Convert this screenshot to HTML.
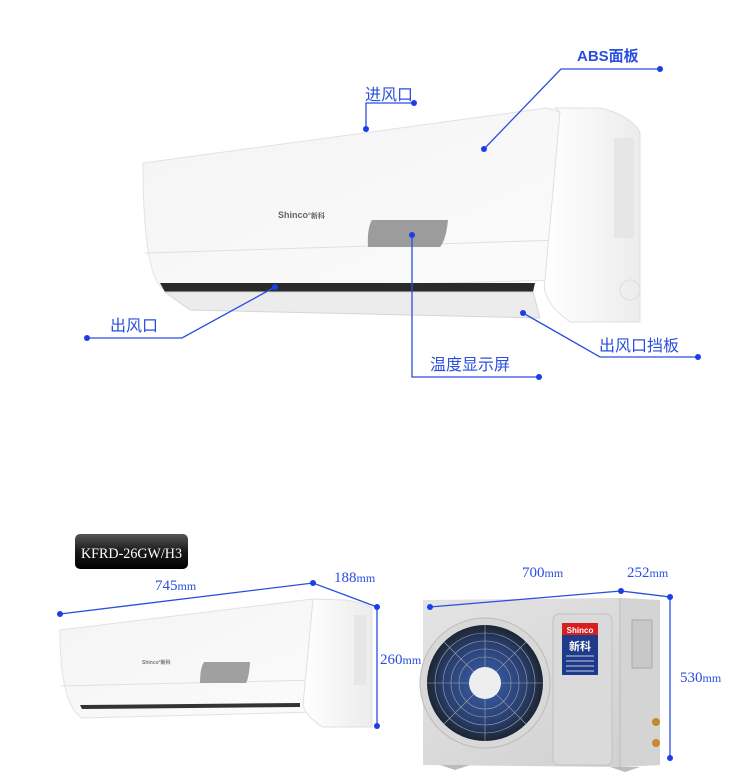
<!DOCTYPE html>
<html><head><meta charset="utf-8"><style>
html,body{margin:0;padding:0;background:#fff;}
svg{display:block;}
.l{font-family:"Liberation Serif","Noto Serif CJK SC",serif;fill:#2a4ee0;}
.c{font-family:"Liberation Sans","Noto Sans CJK SC",sans-serif;fill:#2a4ee0;}
</style></head><body>
<svg width="750" height="784" viewBox="0 0 750 784" xmlns="http://www.w3.org/2000/svg">
<defs>
<linearGradient id="fr" x1="0" y1="0" x2="1" y2="1"><stop offset="0" stop-color="#f4f4f4"/><stop offset="1" stop-color="#fbfbfb"/></linearGradient>
<linearGradient id="sd" x1="0" y1="0" x2="1" y2="0"><stop offset="0" stop-color="#ffffff"/><stop offset="1" stop-color="#ececec"/></linearGradient>
<linearGradient id="bx" x1="0" y1="0" x2="0" y2="1"><stop offset="0" stop-color="#555"/><stop offset=".5" stop-color="#1a1a1a"/><stop offset="1" stop-color="#000"/></linearGradient>
<linearGradient id="od" x1="0" y1="0" x2="1" y2="1"><stop offset="0" stop-color="#e4e4e4"/><stop offset="1" stop-color="#cfcfcf"/></linearGradient>
<radialGradient id="fan" cx=".5" cy=".5" r=".5"><stop offset="0" stop-color="#3b5fae"/><stop offset=".7" stop-color="#2a3f70"/><stop offset="1" stop-color="#1d2533"/></radialGradient>
</defs>

<!-- TOP INDOOR UNIT -->
<path d="M143,163 L547,108 L560,112 L563,280 L165,290 Q143,280 143,163 Z" fill="url(#fr)" stroke="#e2e2e2"/>
<line x1="145" y1="253" x2="562" y2="240" stroke="#e0e0e0"/>
<path d="M555,108 L600,108 Q630,115 640,132 L640,322 L570,322 Q540,300 545,280 L560,112 Z" fill="url(#sd)" stroke="#e0e0e0"/>
<path d="M160,283 L535,283 L533,292 L165,292 Z" fill="#2a2a2a"/>
<path d="M165,292 L533,292 L540,318 L190,310 Z" fill="#ececec" stroke="#d6d6d6"/>
<rect x="614" y="138" width="20" height="100" fill="#e6e6e6"/>
<circle cx="630" cy="290" r="10" fill="none" stroke="#ddd"/>
<path d="M372,220 L448,220 Q446,240 440,247 L368,247 Q367,228 372,220 Z" fill="#9c9c9c"/>
<text x="278" y="218" font-family="Liberation Sans,Noto Sans CJK SC,sans-serif" font-size="9" font-weight="bold" fill="#666">Shinco<tspan font-size="7">°新科</tspan></text>

<!-- labels top -->
<g stroke="#2a4ee0" stroke-width="1.3" fill="none">
<polyline points="414,103 366,103 366,129"/>
<polyline points="660,69 561,69 484,149"/>
<polyline points="87,338 182,338 275,287"/>
<polyline points="412,235 412,377 539,377"/>
<polyline points="523,313 600,357 698,357"/>
</g>
<g fill="#1c3ee8">
<circle cx="414" cy="103" r="3"/><circle cx="366" cy="129" r="3"/>
<circle cx="660" cy="69" r="3"/><circle cx="484" cy="149" r="3"/>
<circle cx="87" cy="338" r="3"/><circle cx="275" cy="287" r="3"/>
<circle cx="412" cy="235" r="3"/><circle cx="539" cy="377" r="3"/>
<circle cx="523" cy="313" r="3"/><circle cx="698" cy="357" r="3"/>
</g>
<text x="365" y="100" class="c" font-size="16">进风口</text>
<text x="577" y="61" class="c" font-size="15" font-weight="bold">ABS面板</text>
<text x="110" y="331" class="c" font-size="16">出风口</text>
<text x="430" y="370" class="c" font-size="16">温度显示屏</text>
<text x="599" y="351" class="c" font-size="16">出风口挡板</text>

<!-- model box -->
<rect x="75" y="534" width="113" height="35" rx="5" fill="url(#bx)"/>
<text x="81" y="558" font-family="Liberation Serif,serif" font-size="15" fill="#fff" textLength="101" lengthAdjust="spacingAndGlyphs">KFRD-26GW/H3</text>

<!-- bottom indoor -->
<path d="M60,630 L313,599 L317,712 L82,718 Q60,705 60,630 Z" fill="url(#fr)" stroke="#e2e2e2"/>
<line x1="60" y1="686" x2="317" y2="680" stroke="#e0e0e0"/>
<path d="M313,599 L345,600 Q365,603 372,608 L372,727 L322,727 Q305,715 303,705 Z" fill="url(#sd)" stroke="#e0e0e0"/>
<rect x="354" y="615" width="12" height="70" fill="#e6e6e6"/>
<path d="M80,705 L300,703 L300,707 L82,709 Z" fill="#333"/>
<path d="M204,662 L250,662 Q249,678 246,683 L200,683 Q200,668 204,662 Z" fill="#a0a0a0"/>
<text x="142" y="664" font-family="Liberation Sans,sans-serif" font-size="5" font-weight="bold" fill="#777">Shinco°新科</text>

<!-- outdoor -->
<path d="M423,600 L620,598 L660,600 L660,765 L620,767 L423,765 Z" fill="url(#od)"/>
<path d="M620,598 L660,600 L660,765 L620,767 Z" fill="#d4d4d4"/>
<line x1="620" y1="598" x2="620" y2="767" stroke="#bbb"/>
<rect x="553" y="614" width="59" height="151" rx="6" fill="#dadada" stroke="#c2c2c2"/>
<circle cx="485" cy="683" r="65" fill="#d8d8d8" stroke="#bbb"/>
<circle cx="485" cy="683" r="58" fill="url(#fan)"/>
<g stroke="#9aa" stroke-width=".6" fill="none">
<circle cx="485" cy="683" r="50"/><circle cx="485" cy="683" r="42"/><circle cx="485" cy="683" r="34"/><circle cx="485" cy="683" r="26"/>
<line x1="485" y1="625" x2="485" y2="741"/><line x1="427" y1="683" x2="543" y2="683"/>
<line x1="444" y1="642" x2="526" y2="724"/><line x1="526" y1="642" x2="444" y2="724"/>
</g>
<circle cx="485" cy="683" r="16" fill="#eee"/>
<rect x="562" y="623" width="36" height="52" fill="#1f3a8a"/>
<rect x="562" y="623" width="36" height="12" fill="#d62020"/>
<text x="580" y="633" text-anchor="middle" font-family="Liberation Sans,sans-serif" font-size="8" font-weight="bold" fill="#fff">Shinco</text>
<text x="580" y="650" text-anchor="middle" font-family="Noto Sans CJK SC,sans-serif" font-size="11" font-weight="bold" fill="#fff">新科</text>
<g stroke="#fff" stroke-width=".8"><line x1="566" y1="656" x2="594" y2="656"/><line x1="566" y1="661" x2="594" y2="661"/><line x1="566" y1="666" x2="594" y2="666"/><line x1="566" y1="671" x2="594" y2="671"/></g>
<rect x="632" y="620" width="20" height="48" fill="#c8c8c8" stroke="#aaa"/>
<circle cx="656" cy="722" r="4" fill="#c8892e"/><circle cx="656" cy="743" r="4" fill="#c8892e"/>
<path d="M440,765 L455,770 L470,765 Z M610,767 L625,772 L640,767 Z" fill="#bbb"/>

<!-- dims bottom -->
<g stroke="#2a4ee0" stroke-width="1.3" fill="none">
<polyline points="60,614 313,583 377,607 377,726"/>
<polyline points="430,607 621,591 670,597 670,758"/>
</g>
<g fill="#1c3ee8">
<circle cx="60" cy="614" r="3"/><circle cx="313" cy="583" r="3"/><circle cx="377" cy="607" r="3"/><circle cx="377" cy="726" r="3"/>
<circle cx="430" cy="607" r="3"/><circle cx="621" cy="591" r="3"/><circle cx="670" cy="597" r="3"/><circle cx="670" cy="758" r="3"/>
</g>
<text x="155" y="590" class="l" font-size="15">745<tspan font-size="12">mm</tspan></text>
<text x="334" y="582" class="l" font-size="15">188<tspan font-size="12">mm</tspan></text>
<text x="380" y="664" class="l" font-size="15">260<tspan font-size="12">mm</tspan></text>
<text x="522" y="577" class="l" font-size="15">700<tspan font-size="12">mm</tspan></text>
<text x="627" y="577" class="l" font-size="15">252<tspan font-size="12">mm</tspan></text>
<text x="680" y="682" class="l" font-size="15">530<tspan font-size="12">mm</tspan></text>
</svg>
</body></html>
